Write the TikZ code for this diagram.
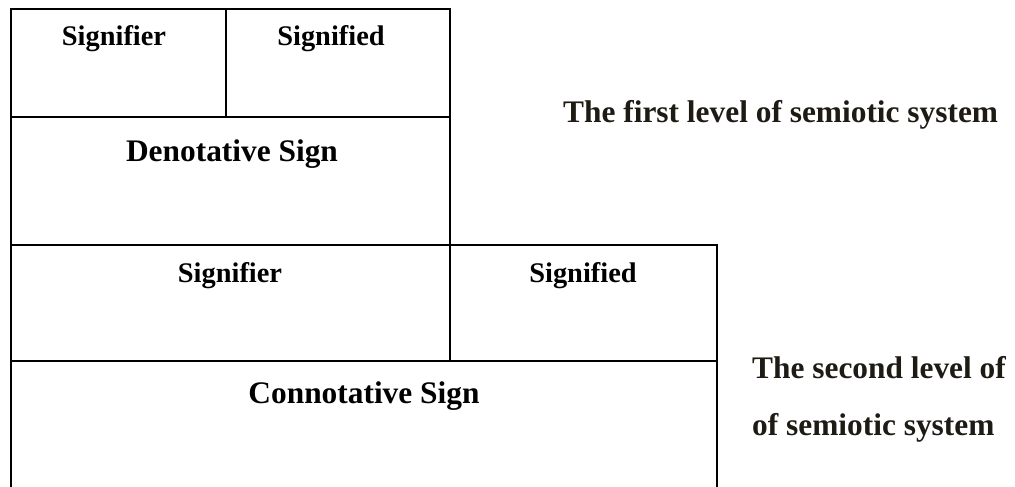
\documentclass[tikz,border=0pt]{standalone}
\usepackage{fontspec}
\setmainfont{Liberation Serif}
\definecolor{levelink}{RGB}{30,27,20}
\tikzset{
  cell/.style={font=\bfseries\fontsize{28.5}{34}\selectfont,anchor=base,inner sep=0pt},
  sign/.style={font=\bfseries\fontsize{31.5}{38}\selectfont,anchor=base,inner sep=0pt},
  level/.style={sign,text=levelink,anchor=base west}
}
\begin{document}
\begin{tikzpicture}[x=1bp,y=-1bp]
    \useasboundingbox (0,0) rectangle (1015,487);
    \draw[line width=2bp] 
      (11,487) -- (11,9) -- (450,9) -- (450,245) 
      (226,9) -- (226,117) 
      (11,117) -- (450,117) 
      (11,245) -- (717,245) -- (717,487) 
      (450,245) -- (450,361) 
      (11,361) -- (717,361) 
      ;
    \node[cell] (signifierA) at (114,46) {Signifier};
    \node[cell] (signifiedA) at (331,46) {Signified};
    \node[sign] (denotative) at (232,162) {Denotative Sign};
    \node[cell] (signifierB) at (230,283) {Signifier};
    \node[cell] (signifiedB) at (583,283) {Signified};
    \node[sign] (connotative) at (364,403) {Connotative Sign};
    \node[level] (firstlevel) at (563,123) {The first level of semiotic system};
    \node[level] (secondlevel) at (752,379) {The second level of};
    \node[level] (secondlevelB) at (752,435) {of semiotic system};
  \end{tikzpicture}
\end{document}
